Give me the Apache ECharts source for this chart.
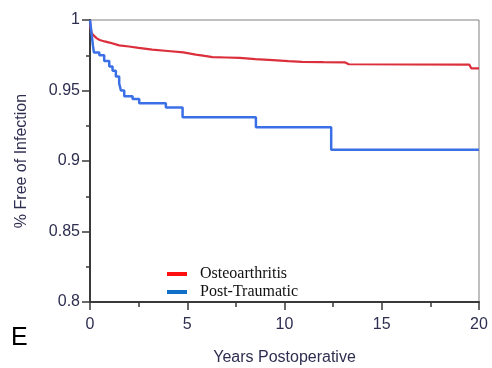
<!DOCTYPE html>
<html>
<head>
<meta charset="utf-8">
<script src="https://cdn.jsdelivr.net/npm/echarts@6/dist/echarts.min.js"></script>
<style>html,body{margin:0;padding:0;background:#fff;}#c{width:492px;height:368px;}</style>
</head>
<body>
<div id="c"></div>
<script>
var seriesNames = ['Osteoarthritis', 'Post-Traumatic'];
var osteoTimes = [0, 0.02, 0.06, 0.12, 0.22, 0.35, 0.5, 0.75, 1.0, 1.5, 2.0, 2.5, 3.2, 4.0, 4.8, 5.44, 5.9, 6.3, 7.0, 7.7, 8.5, 9.4, 10.2, 10.9, 12.0, 13.1, 13.3, 19.5, 19.6, 20];
var osteoSurv  = [1, 0.995, 0.992, 0.990, 0.9888, 0.987, 0.9858, 0.9848, 0.984, 0.982, 0.9812, 0.9802, 0.979, 0.978, 0.977, 0.9755, 0.9745, 0.9737, 0.9734, 0.9731, 0.9722, 0.9715, 0.9708, 0.9703, 0.9701, 0.970, 0.9686, 0.9684, 0.9657, 0.9657];
var traumaTimes = [0, 0.05, 0.1, 0.15, 0.2, 0.48, 0.73, 0.99, 1.16, 1.33, 1.5, 1.59, 1.76, 2.19, 2.53, 3.9, 4.76, 8.53, 12.4, 20];
var traumaSurv  = [1, 0.994, 0.988, 0.982, 0.977, 0.975, 0.971, 0.967, 0.964, 0.960, 0.955, 0.950, 0.946, 0.944, 0.941, 0.938, 0.931, 0.924, 0.908, 0.908];
var xTicks = [0, 5, 10, 15, 20];
var yTicks = [0.8, 0.85, 0.9, 0.95, 1];

function pairs(t, s) { return t.map(function (v, i) { return [v, s[i]]; }); }

var chart = echarts.init(document.getElementById('c'), null, {renderer: 'canvas'});
var labelColor = '#2e2e50';
chart.setOption({
  animation: false,
  backgroundColor: '#fff',
  grid: {left: 90, right: 13, top: 20, bottom: 66, containLabel: false, outerBoundsMode: 'none',
         show: true, borderColor: '#808080', borderWidth: 1, backgroundColor: 'transparent'},
  legend: {
    orient: 'vertical', left: 162, top: 261, itemWidth: 20, itemHeight: 4, itemGap: 2,
    icon: 'rect',
    textStyle: {fontFamily: 'Liberation Serif', fontSize: 16, color: '#111', padding: [0, 0, 0, 8]},
    data: [
      {name: seriesNames[0], itemStyle: {color: '#ff1010'}},
      {name: seriesNames[1], itemStyle: {color: '#1070c8'}}
    ]
  },
  xAxis: {
    type: 'value', min: xTicks[0], max: xTicks[xTicks.length - 1], interval: 5,
    name: 'Years Postoperative', nameLocation: 'middle', nameGap: 48,
    nameTextStyle: {fontFamily: 'Liberation Sans', fontSize: 16, color: labelColor},
    axisLine: {show: true, onZero: false, lineStyle: {color: '#3a3a3a', width: 2}},
    axisTick: {show: true, length: 8, lineStyle: {color: '#3a3a3a', width: 1.5}},
    minorTick: {show: true, splitNumber: 2, length: 5, lineStyle: {color: '#3a3a3a', width: 1.5}},
    axisLabel: {margin: 15, fontFamily: 'Liberation Sans', fontSize: 16, color: labelColor},
    splitLine: {show: false}
  },
  yAxis: {
    type: 'value', min: yTicks[0], max: yTicks[yTicks.length - 1], interval: 0.05,
    name: '% Free of Infection', nameLocation: 'middle', nameGap: 60,
    nameTextStyle: {fontFamily: 'Liberation Sans', fontSize: 16, color: labelColor},
    axisLine: {show: true, lineStyle: {color: '#3a3a3a', width: 2}},
    axisTick: {show: true, length: 8, lineStyle: {color: '#3a3a3a', width: 1.5}},
    minorTick: {show: true, splitNumber: 2, length: 4, lineStyle: {color: '#3a3a3a', width: 1.5}},
    axisLabel: {margin: 10, fontFamily: 'Liberation Sans', fontSize: 16, color: labelColor,
      formatter: function (v) { return String(+v.toFixed(2)); }},
    splitLine: {show: false}
  },
  series: [
    {name: seriesNames[0], type: 'line', showSymbol: false, data: pairs(osteoTimes, osteoSurv),
     lineStyle: {color: '#dc2f3c', width: 2.2}, itemStyle: {color: '#dc2f3c'}},
    {name: seriesNames[1], type: 'line', step: 'end', showSymbol: false, data: pairs(traumaTimes, traumaSurv),
     lineStyle: {color: '#3b6fe6', width: 2.5}, itemStyle: {color: '#3b6fe6'}}
  ],
  graphic: [
    {type: 'text', left: 11, top: 326, style: {text: 'E', font: '25px "Liberation Sans"', fill: '#000'}}
  ]
});
</script>
</body>
</html>
